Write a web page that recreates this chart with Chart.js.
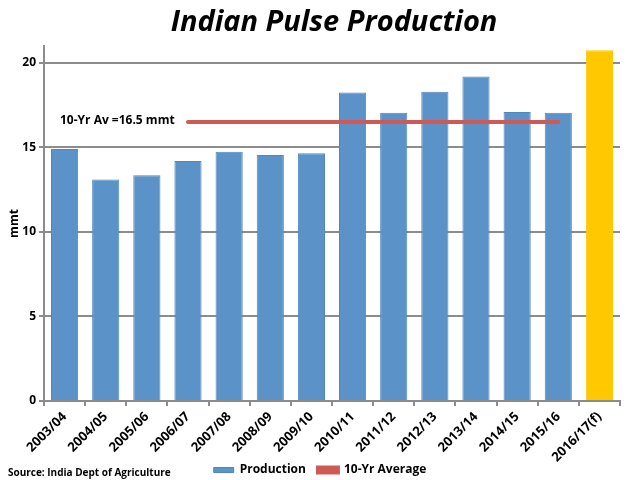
<!DOCTYPE html>
<html>
<head>
<meta charset="utf-8">
<script src="https://cdn.jsdelivr.net/npm/chart.js@4"></script>
<style>
  html, body { margin: 0; padding: 0; background: #fff; overflow: hidden; }
</style>
</head>
<body>
<canvas id="chart" width="640" height="480"></canvas>
<script>
// data
const seasons = ['2003/04', '2004/05', '2005/06', '2006/07', '2007/08', '2008/09', '2009/10',
                 '2010/11', '2011/12', '2012/13', '2013/14', '2014/15', '2015/16', '2016/17(f)'];
const production = [14.9, 13.1, 13.35, 14.2, 14.75, 14.55, 14.65, 18.25, 17.05, 18.3, 19.2, 17.1, 17.05, 20.75];
const tenYearAverage = [null, null, null, 16.5, 16.5, 16.5, 16.5, 16.5, 16.5, 16.5, 16.5, 16.5, 16.5, null];
const barColors = ['#5b93c9', '#5b93c9', '#5b93c9', '#5b93c9', '#5b93c9', '#5b93c9', '#5b93c9',
                   '#5b93c9', '#5b93c9', '#5b93c9', '#5b93c9', '#5b93c9', '#5b93c9', '#ffc800'];
const borderColors = ['#4f87c0', '#4f87c0', '#4f87c0', '#4f87c0', '#4f87c0', '#4f87c0', '#4f87c0',
                      '#4f87c0', '#4f87c0', '#4f87c0', '#4f87c0', '#4f87c0', '#4f87c0', '#ffc800'];

const FONT = '"Open Sans", "Noto Sans", sans-serif';
const GREY = '#8c8c8c';

// title, source and the average note sit at fixed spots in the original
const extraText = {
    id: 'extraText',
    beforeDraw(chart) {
        // long rotated labels run past the axis box, don't let them get clipped
        chart.scales.x.bottom = chart.height;
    },
    afterDraw(chart) {
        const ctx = chart.ctx;
        ctx.save();
        ctx.fillStyle = '#000';
        ctx.textBaseline = 'middle';
        ctx.textAlign = 'center';
        ctx.font = 'italic bold 29px ' + FONT;
        ctx.fillText('Indian Pulse Production', 334, 23);
        ctx.textAlign = 'left';
        ctx.font = 'bold 12px ' + FONT;
        ctx.fillText('10-Yr Av =16.5 mmt', 60, chart.scales.y.getPixelForValue(16.5) - 1);
        ctx.font = 'bold 10px ' + FONT;
        ctx.fillText('Source: India Dept of Agriculture', 8, 473);
        ctx.restore();
    }
};

new Chart(document.getElementById('chart'), {
    data: {
        labels: seasons,
        datasets: [
            {
                type: 'line',
                label: '10-Yr Average',
                data: tenYearAverage,
                borderColor: '#cf5a55',
                backgroundColor: '#cf5a55',
                borderWidth: 4,
                borderCapStyle: 'round',
                pointRadius: 0,
                order: 1
            },
            {
                type: 'bar',
                label: 'Production',
                data: production,
                backgroundColor: barColors,
                borderColor: borderColors,
                borderWidth: 1,
                barPercentage: 0.66,
                categoryPercentage: 1,
                order: 2
            }
        ]
    },
    plugins: [extraText],
    options: {
        responsive: false,
        animation: false,
        devicePixelRatio: 1,
        layout: { padding: { top: 46, right: 20, left: 20, bottom: -6 } },
        plugins: {
            title: { display: false },
            tooltip: { enabled: false },
            legend: {
                position: 'bottom',
                reverse: true,
                labels: {
                    boxWidth: 20,
                    boxHeight: 5,
                    padding: 12,
                    color: '#000',
                    font: { family: FONT, size: 12, weight: 'bold' }
                }
            }
        },
        scales: {
            x: {
                offset: true,
                afterFit(scale) { scale.height = 51; },
                grid: { drawOnChartArea: false, color: GREY, lineWidth: 2, tickLength: 5 },
                border: { color: GREY, width: 2 },
                ticks: {
                    color: '#000',
                    maxRotation: 45,
                    minRotation: 45,
                    autoSkip: false,
                    font: { family: FONT, size: 13, weight: 'bold' }
                }
            },
            y: {
                min: 0,
                max: 21,
                afterFit(scale) { scale.width = 24; },
                afterBuildTicks(scale) {
                    scale.ticks = scale.ticks.filter(t => t.value % 5 === 0);
                },
                title: {
                    display: true,
                    text: 'mmt',
                    color: '#000',
                    padding: { top: -13, bottom: 0 },
                    font: { family: FONT, size: 12, weight: 'bold' }
                },
                grid: { color: GREY, lineWidth: 2, tickLength: 5 },
                border: { color: GREY, width: 2 },
                ticks: {
                    stepSize: 5,
                    color: '#000',
                    font: { family: FONT, size: 12, weight: 'bold' }
                }
            }
        }
    }
});
</script>
</body>
</html>
